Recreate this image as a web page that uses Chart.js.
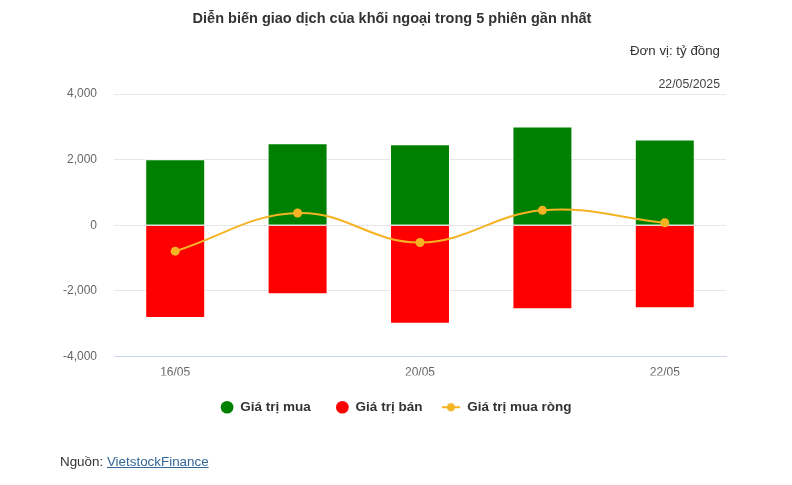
<!DOCTYPE html>
<html>
<head>
<meta charset="utf-8">
<script src="https://cdn.jsdelivr.net/npm/chart.js@4/dist/chart.umd.min.js"></script>
<style>
  html, body { margin: 0; padding: 0; background: #fff; }
  body { font-family: "Liberation Sans", Arial, sans-serif; }
  #wrap { position: relative; width: 792px; height: 485px; }
  #chart { position: absolute; left: 0; top: 0; }
  .txt { position: absolute; color: #333; white-space: nowrap; }
  #title { left: -4px; width: 792px; top: 10px; text-align: center; font-size: 14.5px; font-weight: bold; }
  #unit { right: 72px; top: 43px; font-size: 13.3px; }
  #date { right: 72px; top: 77px; font-size: 12.3px; color: #444; }
  #source { left: 60px; top: 454px; font-size: 13.4px; }
  #source a { color: #336699; text-decoration: underline; }
</style>
</head>
<body>
<div id="wrap">
  <canvas id="chart" width="792" height="485"></canvas>
  <div class="txt" id="title">Diễn biến giao dịch của khối ngoại trong 5 phiên gần nhất</div>
  <div class="txt" id="unit">Đơn vị: tỷ đồng</div>
  <div class="txt" id="date">22/05/2025</div>
  <div class="txt" id="source">Nguồn: <a href="#">VietstockFinance</a></div>
</div>
<script>
// --- data ---
const sessions = ['16/05', '19/05', '20/05', '21/05', '22/05'];
const buyValues = [2010, 2500, 2470, 3010, 2610];
const sellValues = [-2830, -2105, -3000, -2560, -2530];
const netValues = [-790, 375, -525, 455, 75];
const yTicks = [-4000, -2000, 0, 2000, 4000];

const GREEN = '#008000';
const RED = '#ff0000';
const GOLD = '#f5b324';

// legend symbol for the net line: short line with a dot (right side left blank for spacing)
function lineSymbol() {
  const c = document.createElement('canvas');
  c.width = 24;
  c.height = 10;
  const g = c.getContext('2d');
  g.strokeStyle = GOLD;
  g.lineWidth = 2;
  g.beginPath();
  g.moveTo(0, 5);
  g.lineTo(18, 5);
  g.stroke();
  g.fillStyle = GOLD;
  g.beginPath();
  g.arc(9, 5, 4, 0, Math.PI * 2);
  g.fill();
  return c;
}
const netSymbol = lineSymbol();

new Chart(document.getElementById('chart'), {
  data: {
    labels: sessions,
    datasets: [
      {
        type: 'bar',
        label: 'Giá trị mua',
        data: buyValues,
        backgroundColor: GREEN,
        borderColor: '#ffffff',
        borderWidth: 1,
        stack: 'flow',
        order: 2,
        barPercentage: 0.49,
        categoryPercentage: 1,
      },
      {
        type: 'bar',
        label: 'Giá trị bán',
        data: sellValues,
        backgroundColor: RED,
        borderColor: '#ffffff',
        borderWidth: 1,
        stack: 'flow',
        order: 2,
        barPercentage: 0.49,
        categoryPercentage: 1,
      },
      {
        type: 'line',
        label: 'Giá trị mua ròng',
        data: netValues,
        borderColor: GOLD,
        backgroundColor: GOLD,
        borderWidth: 2,
        tension: 0.4,
        pointRadius: 4.5,
        pointBorderWidth: 0,
        pointHoverRadius: 5,
        order: 1,
      },
    ],
  },
  options: {
    responsive: false,
    animation: false,
    layout: { padding: { top: 94, left: 0, right: 0, bottom: 61 } },
    plugins: {
      title: { display: false },
      tooltip: { enabled: false },
      legend: {
        position: 'bottom',
        labels: {
          usePointStyle: true,
          boxWidth: 13,
          boxHeight: 9,
          padding: 25,
          color: '#333',
          font: { family: 'Liberation Sans', size: 13.5, weight: 'bold' },
          sort: (a, b) => a.datasetIndex - b.datasetIndex,
          generateLabels: function (chart) {
            const items = Chart.defaults.plugins.legend.labels.generateLabels(chart);
            items.forEach(function (it) {
              it.lineWidth = 0;
              it.strokeStyle = 'transparent';
              if (it.datasetIndex === 2) it.pointStyle = netSymbol;
              else it.pointStyle = 'circle';
            });
            return items;
          },
        },
      },
    },
    scales: {
      x: {
        stacked: true,
        offset: true,
        grid: { display: false, drawTicks: false },
        border: { display: true, color: '#ccd6eb', width: 1 },
        afterFit: (s) => { s.height = 19; },
        ticks: {
          padding: 9,
          maxRotation: 0,
          autoSkip: false,
          color: '#666',
          font: { family: 'Liberation Sans', size: 12 },
          callback: (v, i) => (i % 2 === 0 ? sessions[i] : ''),
        },
      },
      y: {
        stacked: true,
        min: yTicks[0],
        max: yTicks[yTicks.length - 1],
        afterFit: (s) => { s.width = 114; },
        afterBuildTicks: (s) => { s.ticks = yTicks.map((v) => ({ value: v })); },
        grid: { color: '#e6e6e6', drawTicks: false },
        border: { display: false },
        ticks: {
          padding: 17,
          color: '#666',
          font: { family: 'Liberation Sans', size: 12 },
          callback: (v) => v.toLocaleString('en-US'),
        },
      },
      // empty right-hand axis: only reserves the right margin so the legend stays centred on the page
      yRight: {
        position: 'right',
        min: yTicks[0],
        max: yTicks[yTicks.length - 1],
        afterFit: (s) => { s.width = 66; },
        grid: { display: false, drawTicks: false },
        border: { display: false },
        ticks: { display: false },
      },
    },
  },
});
</script>
</body>
</html>
